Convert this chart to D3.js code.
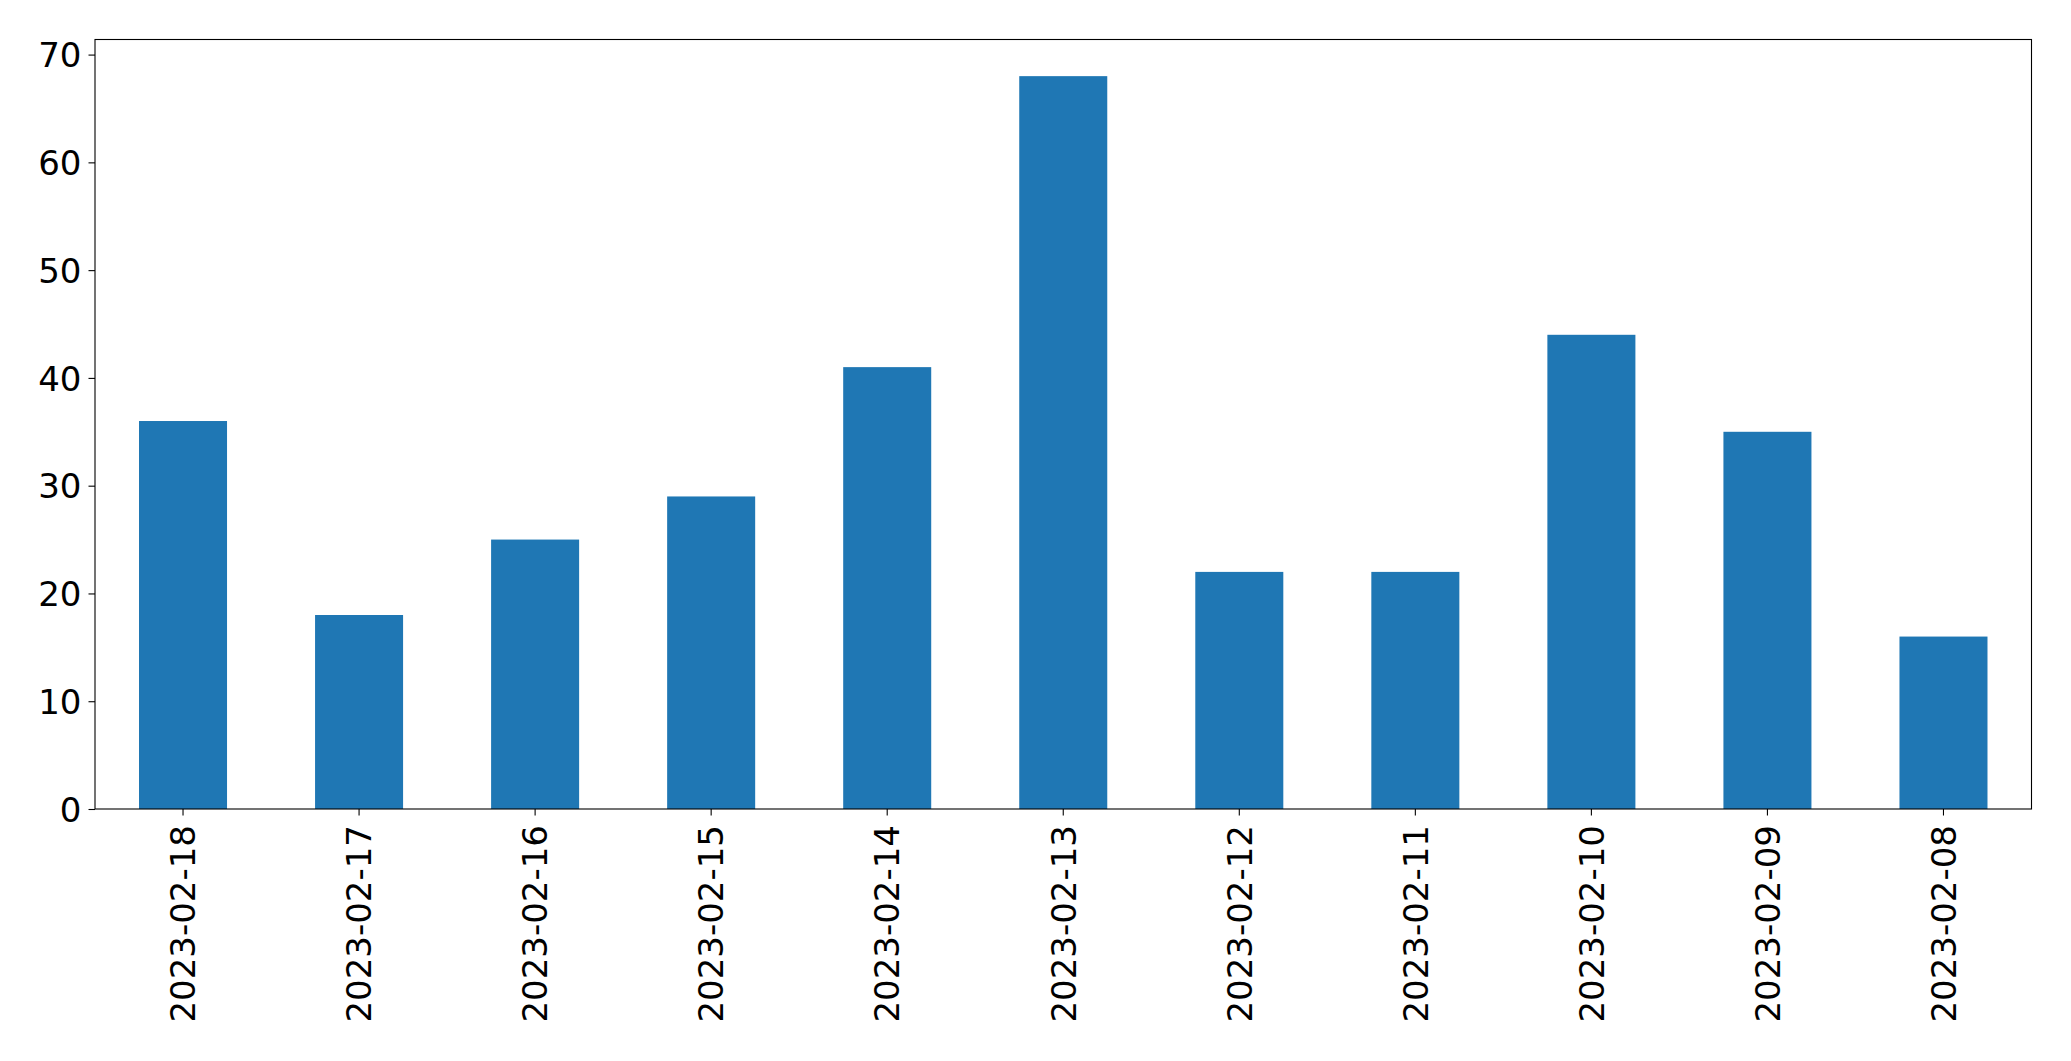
<!DOCTYPE html>
<html>
<head>
<meta charset="utf-8">
<script src="https://cdn.jsdelivr.net/npm/d3@7"></script>
<style>
html,body{margin:0;padding:0;background:#fff;}
svg{display:block;}
text{font-family:"DejaVu Sans",sans-serif;fill:#000;}
</style>
</head>
<body>
<svg id="chart" width="2071" height="1061"></svg>
<script>
const categories = ["2023-02-18","2023-02-17","2023-02-16","2023-02-15","2023-02-14","2023-02-13","2023-02-12","2023-02-11","2023-02-10","2023-02-09","2023-02-08"];
const values = [36, 18, 25, 29, 41, 68, 22, 22, 44, 35, 16];
const yTicks = [0, 10, 20, 30, 40, 50, 60, 70];

const W = 2071, H = 1061;
const m = {left: 95, right: 2031.5, top: 39.5, bottom: 809};
const svg = d3.select("#chart");

const x = d3.scaleBand().domain(categories).range([m.left, m.right]).paddingInner(0.5).paddingOuter(0.25);
const y = d3.scaleLinear().domain([0, d3.max(values) * 1.05]).range([m.bottom, m.top]);

svg.append("g").selectAll("rect").data(values).join("rect")
  .attr("x", (d, i) => x(categories[i]))
  .attr("width", x.bandwidth())
  .attr("y", d => y(d))
  .attr("height", d => y(0) - y(d))
  .attr("fill", "#1f77b4");

const fs = 34;
const yAxis = svg.append("g").attr("transform", `translate(${m.left},0)`)
  .call(d3.axisLeft(y).tickValues(yTicks).tickSize(6.5).tickPadding(7).tickFormat(d3.format("d")));
yAxis.select(".domain").remove();
yAxis.selectAll("line").attr("stroke", "#000").attr("stroke-width", 1.1);
yAxis.selectAll("text").style("font-size", fs + "px").attr("dy", "0.36em");

const xAxis = svg.append("g").attr("transform", `translate(0,${m.bottom})`)
  .call(d3.axisBottom(x).tickSize(6.5).tickPadding(0));
xAxis.select(".domain").remove();
xAxis.selectAll("line").attr("stroke", "#000").attr("stroke-width", 1.1);
xAxis.selectAll("text")
  .style("font-size", fs + "px")
  .attr("text-anchor", "end")
  .attr("y", 0).attr("x", 0).attr("dy", "0.36em")
  .attr("transform", "translate(0,16) rotate(-90)");

svg.append("rect")
  .attr("x", m.left).attr("y", m.top)
  .attr("width", m.right - m.left).attr("height", m.bottom - m.top)
  .attr("fill", "none").attr("stroke", "#000").attr("stroke-width", 1.1);
</script>
</body>
</html>
